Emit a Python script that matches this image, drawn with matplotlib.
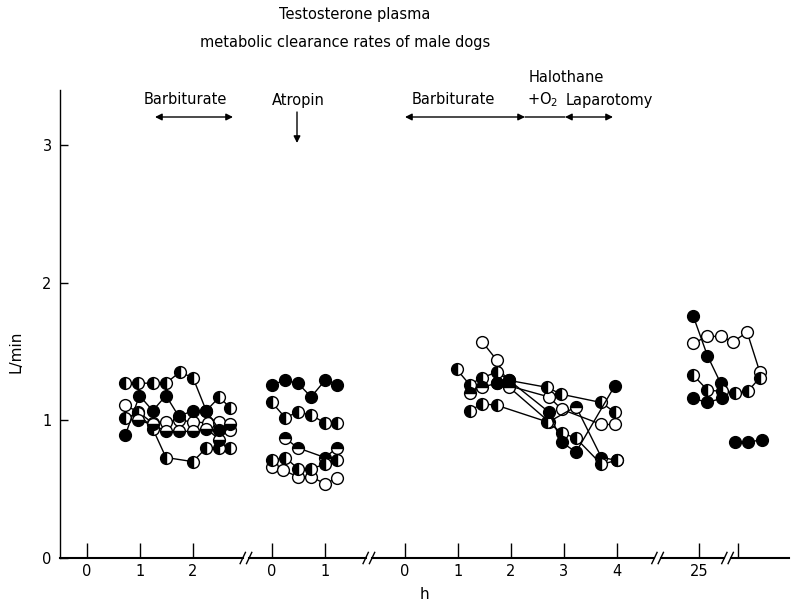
import matplotlib
matplotlib.use('Agg')
import matplotlib.pyplot as plt
import matplotlib.transforms as mtransforms
import numpy as np

W, H = 794, 603

# position on the drawn (broken) x axis = offset + hours
OFFSETS = {'A': 0.0, 'B': 3.49, 'C': 6.0, 'D': -13.45}

# segment A: barbiturate
a1_h = [0.72, 0.97, 1.24, 1.49, 1.75, 2.0, 2.25, 2.5, 2.7]
a1_v = [1.27, 1.27, 1.27, 1.27, 1.35, 1.31, 1.07, 1.17, 1.09]
a2_h = [0.72, 0.99, 1.24, 1.49, 1.73, 2.0, 2.25, 2.5]
a2_v = [0.89, 1.18, 1.07, 1.18, 1.03, 1.07, 1.07, 0.93]
a3_h = [0.72, 0.97, 1.24, 1.49, 1.73, 2.0, 2.29, 2.5, 2.7]
a3_v = [1.11, 1.06, 0.98, 0.99, 1.00, 0.99, 0.98, 0.99, 0.93]
a4_h = [0.72, 0.97, 1.24, 1.49, 2.0, 2.25, 2.5, 2.7]
a4_v = [1.02, 1.05, 0.94, 0.73, 0.70, 0.80, 0.80, 0.80]
a5_h = [0.97, 1.24, 1.49, 1.73, 2.0, 2.25, 2.5, 2.7]
a5_v = [1.00, 0.97, 0.92, 0.92, 0.92, 0.94, 0.86, 0.97]

# segment B: atropin
b1_h = [0.0, 0.25, 0.49, 0.74, 1.0, 1.23]
b1_v = [1.26, 1.29, 1.27, 1.17, 1.29, 1.26]
b2_h = [0.0, 0.25, 0.49, 0.74, 1.0, 1.23]
b2_v = [1.13, 1.02, 1.06, 1.04, 0.98, 0.98]
b3_h = [0.25, 0.49, 1.0, 1.23]
b3_v = [0.87, 0.80, 0.73, 0.80]
b4_h = [0.0, 0.25, 0.49, 0.74, 1.0, 1.23]
b4_v = [0.71, 0.73, 0.65, 0.65, 0.68, 0.71]
b5_h = [0.0, 0.2, 0.49, 0.74, 1.0, 1.23]
b5_v = [0.66, 0.64, 0.59, 0.59, 0.54, 0.58]

# segment C: barbiturate, halothane + O2, laparotomy
c1_h = [1.46, 1.73, 1.97, 2.72, 2.96, 3.71, 3.96]
c1_v = [1.57, 1.44, 1.25, 1.17, 1.08, 0.97, 0.97]
c2_h = [0.98, 1.22, 1.46, 1.73, 1.97, 2.68, 2.95, 3.70, 3.96]
c2_v = [1.37, 1.26, 1.31, 1.35, 1.29, 1.24, 1.19, 1.13, 1.06]
c3_h = [1.73, 1.97, 2.72, 2.96, 3.23, 3.96]
c3_v = [1.27, 1.29, 1.06, 0.84, 0.77, 1.25]
c4_h = [1.22, 1.46, 1.73, 1.97, 2.72, 3.23, 3.71, 4.0]
c4_v = [1.20, 1.24, 1.27, 1.24, 0.99, 1.10, 0.73, 0.71]
c5_h = [1.22, 1.46, 1.73, 2.68, 2.96, 3.23, 3.71, 4.0]
c5_v = [1.07, 1.12, 1.11, 0.99, 0.91, 0.87, 0.68, 0.71]

# segment D: 25 h
d1_h = [24.89, 25.16, 25.41]
d1_v = [1.76, 1.47, 1.27]
d2_h = [24.89, 25.16, 25.41, 25.64, 25.91, 26.15]
d2_v = [1.56, 1.61, 1.61, 1.57, 1.64, 1.35]
d3_h = [24.89, 25.16, 25.43, 25.68, 25.92, 26.15]
d3_v = [1.33, 1.22, 1.21, 1.20, 1.21, 1.31]
d4_h = [24.89, 25.16, 25.43]
d4_v = [1.16, 1.13, 1.16]
d5_h = [25.68, 25.92, 26.19]
d5_v = [0.84, 0.84, 0.86]

series = [
    ('A', a1_h, a1_v, 'left'), ('A', a3_h, a3_v, 'open'),
    ('A', a4_h, a4_v, 'left'), ('A', a5_h, a5_v, 'bottom'),
    ('A', a2_h, a2_v, 'full'),
    ('B', b1_h, b1_v, 'full'), ('B', b2_h, b2_v, 'left'),
    ('B', b3_h, b3_v, 'top'), ('B', b5_h, b5_v, 'open'),
    ('B', b4_h, b4_v, 'left'),
    ('C', c1_h, c1_v, 'open'), ('C', c2_h, c2_v, 'left'),
    ('C', c4_h, c4_v, 'top'), ('C', c5_h, c5_v, 'left'),
    ('C', c3_h, c3_v, 'full'),
    ('D', d2_h, d2_v, 'open'), ('D', d1_h, d1_v, 'full'),
    ('D', d3_h, d3_v, 'left'), ('D', d4_h, d4_v, 'full'),
    ('D', d5_h, d5_v, 'full'),
]

tick_hours = {'A': [0, 1, 2], 'B': [0, 1], 'C': [0, 1, 2, 3, 4], 'D': [25]}
extra_tick = 25.74  # unlabeled tick after the last break (segment D)
breaks = [3.0, 5.32, 10.77, 12.09]


def fig_xy(px, py):
    return px / W, 1 - py / H


def draw_series(ax, seg, hours, vals, kind):
    x = np.asarray(hours) + OFFSETS[seg]
    kw = dict(color='black', lw=1.0, marker='o', ms=8.5, mec='black', mew=1.0)
    if kind == 'full':
        kw.update(mfc='black')
    elif kind == 'open':
        kw.update(mfc='white')
    else:
        kw.update(mfc='black', markerfacecoloralt='white', fillstyle=kind)
    ax.plot(x, vals, **kw)


plt.rcParams['font.family'] = 'DejaVu Sans'
fig = plt.figure(figsize=(W / 100, H / 100), dpi=100)
x0, y0 = fig_xy(60, 558)
x1, y1 = fig_xy(789, 90)
ax = fig.add_axes([x0, y0, x1 - x0, y1 - y0])

for seg, hh, vv, kind in series:
    draw_series(ax, seg, hh, vv, kind)

ax.set_xlim(-0.51, 13.25)
ax.set_ylim(0, 3.4)

xt, xl = [], []
for seg, hrs in tick_hours.items():
    for h in hrs:
        xt.append(OFFSETS[seg] + h)
        xl.append(str(h))
xt.append(OFFSETS['D'] + extra_tick)
xl.append('')
ax.set_xticks(xt)
ax.set_xticklabels(xl, fontsize=10.5)
ax.set_yticks([0, 1, 2, 3])
ax.set_yticklabels(['0', '1', '2', '3'], fontsize=10.5)
ax.tick_params(axis='x', direction='in', length=11, width=1.0, pad=4)
ax.tick_params(axis='y', direction='in', length=6, width=1.0, pad=6)

for side in ['top', 'right', 'bottom']:
    ax.spines[side].set_visible(False)
ax.spines['left'].set_linewidth(1.0)

# broken x axis line with // marks
trans = mtransforms.blended_transform_factory(ax.transData, ax.transAxes)
edges = [-0.51]
for b in breaks:
    edges += [b - 0.06, b + 0.06]
edges.append(13.25)
for i in range(0, len(edges), 2):
    ax.plot([edges[i], edges[i + 1]], [0, 0], color='black', lw=1.5,
            transform=trans, clip_on=False)
for b in breaks:
    for dx in (-0.06, 0.06):
        ax.plot([b + dx - 0.05, b + dx + 0.05], [-0.012, 0.012],
                color='black', lw=1.0, transform=trans, clip_on=False)

ax.set_xlabel('h', fontsize=11, labelpad=6)
ax.set_ylabel('L/min', fontsize=11, labelpad=14)
ax.yaxis.set_label_coords(-0.05, 0.44)

# title
fig.text(*fig_xy(355, 15), 'Testosterone plasma', ha='center', va='center',
         fontsize=10.5)
fig.text(*fig_xy(345, 42), 'metabolic clearance rates of male dogs',
         ha='center', va='center', fontsize=10.5)

# treatment annotations
fig.text(*fig_xy(185, 100), 'Barbiturate', ha='center', va='center',
         fontsize=10.5)
fig.text(*fig_xy(298, 100), 'Atropin', ha='center', va='center',
         fontsize=10.5)
fig.text(*fig_xy(453, 100), 'Barbiturate', ha='center', va='center',
         fontsize=10.5)
fig.text(*fig_xy(566, 78), 'Halothane', ha='center', va='center',
         fontsize=10.5)
fig.text(*fig_xy(527, 100), '+O$_2$', ha='left', va='center',
         fontsize=10.5)
fig.text(*fig_xy(566, 100), 'Laparotomy', ha='left', va='center',
         fontsize=10.5)


def arrow(p_from, p_to, style):
    ax.annotate('', xy=fig_xy(*p_to), xytext=fig_xy(*p_from),
                xycoords='figure fraction', textcoords='figure fraction',
                arrowprops=dict(arrowstyle=style, color='black', lw=1.0,
                                shrinkA=0, shrinkB=0,
                                mutation_scale=10),
                annotation_clip=False)


arrow((155, 117), (233, 117), '<|-|>')
arrow((297, 112), (297, 143), '-|>')
arrow((405, 117), (525, 117), '<|-|>')
arrow((525, 117), (565, 117), '-')
arrow((565, 117), (613, 117), '<|-|>')

fig.savefig('out.png', dpi=100)
